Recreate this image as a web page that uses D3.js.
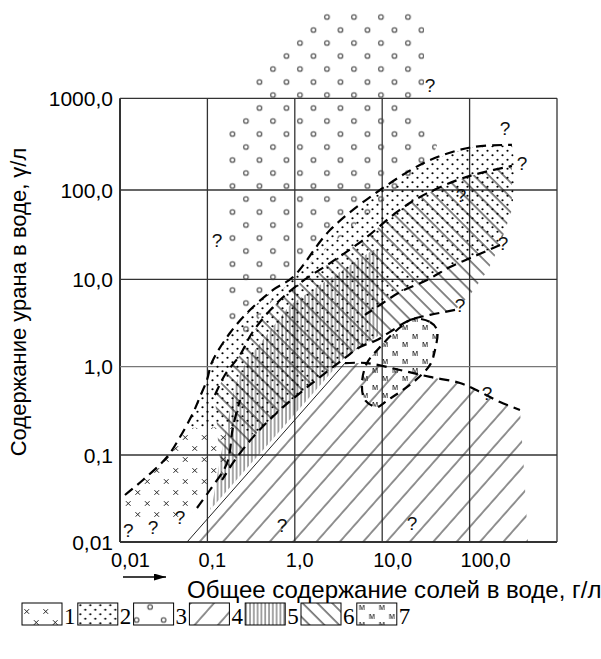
<!DOCTYPE html>
<html><head><meta charset="utf-8">
<script src="https://cdn.jsdelivr.net/npm/d3@7"></script>
<style>body{margin:0;background:#fff}svg{display:block}</style>
</head><body>
<svg id="c" width="601" height="659"></svg>
<script>
// ---------- data (salinity g/l, uranium γ/l) ----------
const xTicks=[0.01,0.1,1,10,100];
const xTickLabels=["0,01","0,1","1,0","10,0","100,0"];
const yTicks=[0.01,0.1,1,10,100,1000];
const yTickLabels=["0,01","0,1","1,0","10,0","100,0","1000,0"];
const xGrid=[0.01,0.1,1,10,100,1000];
const legendLabels=["1","2","3","4","5","6","7"];

const lineA=[[0.0114,0.0347],[0.0183,0.0516],[0.0345,0.0948],[0.0486,0.160],[0.0685,0.299],[0.082,0.454],[0.099,0.71],[0.113,1.13],[0.181,2.43],[0.307,4.46],[0.563,7.55],[0.953,10.6],[2.53,35.6],[9.44,100],[35.2,212],[109,294],[305,310]];
const lineB=[[0.122,0.478],[0.159,0.81],[0.236,1.36],[0.324,2.43],[0.593,5.08],[1.15,9.07],[2.53,15.2],[6.03,27.5],[14.8,56.8],[27.1,83.6],[71.8,128],[132,153],[305,183]];
const lineC=[[223,24.2],[122,18.7],[59.7,13.7],[32.6,9.82],[16.0,7.16],[10.2,5.36],[6.35,3.91]];
const lineD=[[68.1,4.46],[35.2,3.91],[20.8,3.42],[13.3,2.63],[8.73,2.02],[5.57,1.68],[3.75,1.26],[1.49,0.621],[0.677,0.324],[0.351,0.169],[0.207,0.0877],[0.147,0.0516]];
const lineE=[[0.076,0.0246],[0.107,0.0396],[0.168,0.081],[0.196,0.207],[0.236,0.420]];
const line4top=[[3.75,1.10],[6.70,1.10],[16.0,0.918],[35.2,0.766],[77.6,0.654],[132,0.517],[223,0.398],[377,0.324]];
const edge4=[[0.0585,0.01],[3.75,1.10]];
const oval7=[[22.5,3.51],[35.2,3.25],[42.4,2.63],[40.2,1.55],[35.2,1.05],[25.7,0.744],[17.3,0.545],[11.6,0.420],[8.73,0.350],[6.35,0.420],[5.87,0.654],[6.70,1.10],[9.44,1.68],[14.8,2.63]];

const region1=[[0.0111,0.0329],[0.0183,0.0516],[0.0345,0.0948],[0.0486,0.160],[0.0569,0.202],[0.196,0.207],[0.168,0.081],[0.107,0.0396],[0.076,0.0246],[0.0555,0.0189],[0.022,0.0179],[0.0124,0.0204],[0.0111,0.0266]];
const region2=[[0.0569,0.202],[0.0685,0.299],[0.082,0.454],[0.099,0.71],[0.113,1.13],[0.181,2.43],[0.307,4.46],[0.563,7.55],[0.953,10.6],[2.53,35.6],[9.44,100],[35.2,212],[109,294],[305,310],[331,187],[314,77.3],[223,24.2],[122,18.7],[59.7,13.7],[32.6,9.82],[16.0,7.16],[10.2,5.36],[6.35,3.91],[8.73,2.02],[5.57,1.68],[3.75,1.26],[1.49,0.621],[0.677,0.324],[0.351,0.169],[0.196,0.207]];
const region3=[[2.10,9180],[21.9,9180],[30.1,6290],[30.1,1170],[16.0,912],[21.9,658],[42.4,310],[37.2,223],[16.0,113],[9.44,67.9],[2.53,24.2],[0.881,9.31],[0.422,4.23],[0.307,2.13],[0.224,2.02],[0.163,2.63],[0.163,451],[0.236,658],[0.324,957],[0.351,1580],[0.493,2300],[0.733,3360],[1.06,4540],[1.45,6450]];
const region4=[[0.0585,0.01],[3.75,1.10],[6.70,1.10],[16.0,0.918],[35.2,0.766],[77.6,0.654],[132,0.517],[223,0.398],[377,0.324],[419,0.0673],[466,0.01]];
const region5=[[7.85,21.3],[2.10,9.07],[0.881,5.08],[0.284,1.19],[0.207,0.621],[0.172,0.249],[0.139,0.0877],[0.116,0.0304],[0.107,0.0233],[3.75,1.29],[8.96,2.24],[8.96,21.3]];
const region6=[...lineB,[305,59.7],[223,24.2],[162,12.7],[101,6.61],...lineD,[0.132,0.148]];

const questionMarks=[[35.2,1400],[254,474],[398,197],[79.8,87.9],[241,25.5],[77.6,5.08],[158,0.504],[0.129,27.5],[0.0124,0.0137],[0.0239,0.0149],[0.0486,0.0194],[0.714,0.0157],[21.9,0.0165]];

// ---------- scales ----------
const x=d3.scaleLog().domain([0.01,1000]).range([120,557]);
const y=d3.scaleLog().domain([0.01,0.1,1,10,100,1000]).range([542,455,366.7,279.3,190,98.3]);

const svg=d3.select("#c");
const defs=svg.append("defs");
function pat(id,w,h,tr,px,py){
  const p=defs.append("pattern").attr("id",id).attr("patternUnits","userSpaceOnUse")
    .attr("width",w).attr("height",h).attr("x",px||0).attr("y",py||0);
  if(tr)p.attr("patternTransform",tr);
  return p;
}
// 1 crosses
let p=pat("p1",19,22,null,0,3);
[[4.75,5.5],[14.25,16.5]].forEach(([cx,cy])=>p.append("path")
  .attr("d",`M${cx-2.3},${cy-2.3}L${cx+2.3},${cy+2.3}M${cx+2.3},${cy-2.3}L${cx-2.3},${cy+2.3}`)
  .attr("stroke","#222").attr("stroke-width",1));
// 2 dots
p=pat("p2",10,9);
[[2.5,2.25],[7.5,6.75]].forEach(([cx,cy])=>p.append("circle").attr("cx",cx).attr("cy",cy).attr("r",1.1).attr("fill","#000"));
// 3 circles
p=pat("p3",27,26,null,320.25,10.5);
[[6.75,6.5],[20.25,19.5]].forEach(([cx,cy])=>p.append("circle").attr("cx",cx).attr("cy",cy).attr("r",2.3).attr("fill","none").attr("stroke","#444").attr("stroke-width",1.1));
// 4 forward hatch
p=pat("p4",17.5,10,"rotate(41.5)");
p.append("line").attr("x1",1).attr("x2",1).attr("y1",0).attr("y2",10).attr("stroke","#222").attr("stroke-width",1);
// 5 vertical
p=pat("p5",3.8,10);
p.append("line").attr("x1",1).attr("x2",1).attr("y1",0).attr("y2",10).attr("stroke","#333").attr("stroke-width",0.9);
// 6 backslash
p=pat("p6",10.5,10,"rotate(-45)");
p.append("line").attr("x1",1).attr("x2",1).attr("y1",0).attr("y2",10).attr("stroke","#111").attr("stroke-width",1);
// 7 м
p=pat("p7",20,17);
[[5,7],[15,15.5]].forEach(([tx,ty])=>p.append("text").attr("x",tx).attr("y",ty).attr("text-anchor","middle")
  .attr("font-family","Liberation Sans, Arial, sans-serif").attr("font-size",9).attr("fill","#222").text("м"));

const poly=d3.line().x(d=>x(d[0])).y(d=>y(d[1]));
const smooth=d3.line().x(d=>x(d[0])).y(d=>y(d[1])).curve(d3.curveCatmullRom.alpha(0.5));
const smoothClosed=d3.line().x(d=>x(d[0])).y(d=>y(d[1])).curve(d3.curveCatmullRomClosed.alpha(0.5));

// ---------- grid ----------
const g=svg.append("g");
g.selectAll(".vx").data(xGrid).join("line").attr("x1",d=>x(d)).attr("x2",d=>x(d))
  .attr("y1",y(1000)).attr("y2",y(0.01)).attr("stroke","#333").attr("stroke-width",d=>d===0.01?2:1.3);
g.selectAll(".hy").data(yTicks).join("line").attr("y1",d=>y(d)).attr("y2",d=>y(d))
  .attr("x1",x(0.01)).attr("x2",x(1000)).attr("stroke",d=>d===1?"#777":"#333").attr("stroke-width",d=>d===0.01?2:1.3);

// ---------- regions ----------
const r=svg.append("g");
r.append("path").attr("d",poly(region4)+"Z").attr("fill","url(#p4)");
r.append("path").attr("d",poly(edge4)).attr("fill","none").attr("stroke","#222").attr("stroke-width",1);
r.append("path").attr("d",poly(region5)+"Z").attr("fill","url(#p5)");
r.append("path").attr("d",poly(region6)+"Z").attr("fill","url(#p6)");
r.append("path").attr("d",poly(region2)+"Z").attr("fill","url(#p2)");
r.append("path").attr("d",poly(region1)+"Z").attr("fill","url(#p1)");
r.append("path").attr("d",poly(region3)+"Z").attr("fill","url(#p3)");
r.append("path").attr("d",smoothClosed(oval7)).attr("fill","url(#p7)");

// ---------- dashed boundaries ----------
const dl=svg.append("g").attr("fill","none").attr("stroke","#000").attr("stroke-width",2.2).attr("stroke-dasharray","10,6");
[lineA,lineB,lineC,lineD,lineE,line4top].forEach(l=>dl.append("path").attr("d",smooth(l)));
dl.append("path").attr("d",smoothClosed(oval7)).attr("stroke-dasharray","9,6");

// ---------- question marks ----------
svg.append("g").selectAll("text").data(questionMarks).join("text")
  .attr("x",d=>x(d[0])).attr("y",d=>y(d[1])).attr("dy","0.36em").attr("text-anchor","middle")
  .attr("font-family","Liberation Sans, Arial, sans-serif").attr("font-size",19).attr("fill","#111").text("?");

// ---------- axes labels ----------
const font="Liberation Sans, Arial, sans-serif";
svg.append("g").selectAll("text").data(yTicks).join("text")
  .attr("x",113).attr("y",d=>y(d)).attr("dy","0.36em").attr("text-anchor","end")
  .attr("font-family",font).attr("font-size",21).attr("fill","#000").text((d,i)=>yTickLabels[i]);
svg.append("g").selectAll("text").data(xTicks).join("text")
  .attr("x",d=>x(d)-9).attr("y",567).attr("text-anchor","start")
  .attr("font-family",font).attr("font-size",20).attr("fill","#000").text((d,i)=>xTickLabels[i]);

svg.append("text").attr("transform","translate(26,302) rotate(-90)").attr("text-anchor","middle")
  .attr("font-family",font).attr("font-size",22).attr("fill","#000").text("Содержание урана в воде, γ/л");
svg.append("text").attr("x",187).attr("y",598).attr("font-family",font).attr("font-size",24).attr("fill","#000")
  .text("Общее содержание солей в воде, г/л");
// arrow
defs.append("marker").attr("id","ah").attr("viewBox","0 0 12 7").attr("refX",12).attr("refY",3.5)
  .attr("markerWidth",12).attr("markerHeight",7).attr("markerUnits","userSpaceOnUse").attr("orient","auto")
  .append("path").attr("d","M0,0L12,3.5L0,7Z").attr("fill","#000");
svg.append("line").attr("x1",123).attr("x2",166).attr("y1",577).attr("y2",577).attr("stroke","#000").attr("stroke-width",1.6).attr("marker-end","url(#ah)");

// ---------- legend ----------
const lg=svg.append("g").selectAll("g").data(legendLabels).join("g")
  .attr("transform",(d,i)=>`translate(${22+i*55.8},603)`);
lg.append("rect").attr("width",40).attr("height",22).attr("fill",(d,i)=>`url(#p${i+1})`).attr("stroke","#000").attr("stroke-width",1);
lg.append("text").attr("x",42).attr("y",21).attr("font-family","Liberation Serif, Times New Roman, serif").attr("font-size",23).attr("fill","#000").text(d=>d);
</script>
</body></html>
